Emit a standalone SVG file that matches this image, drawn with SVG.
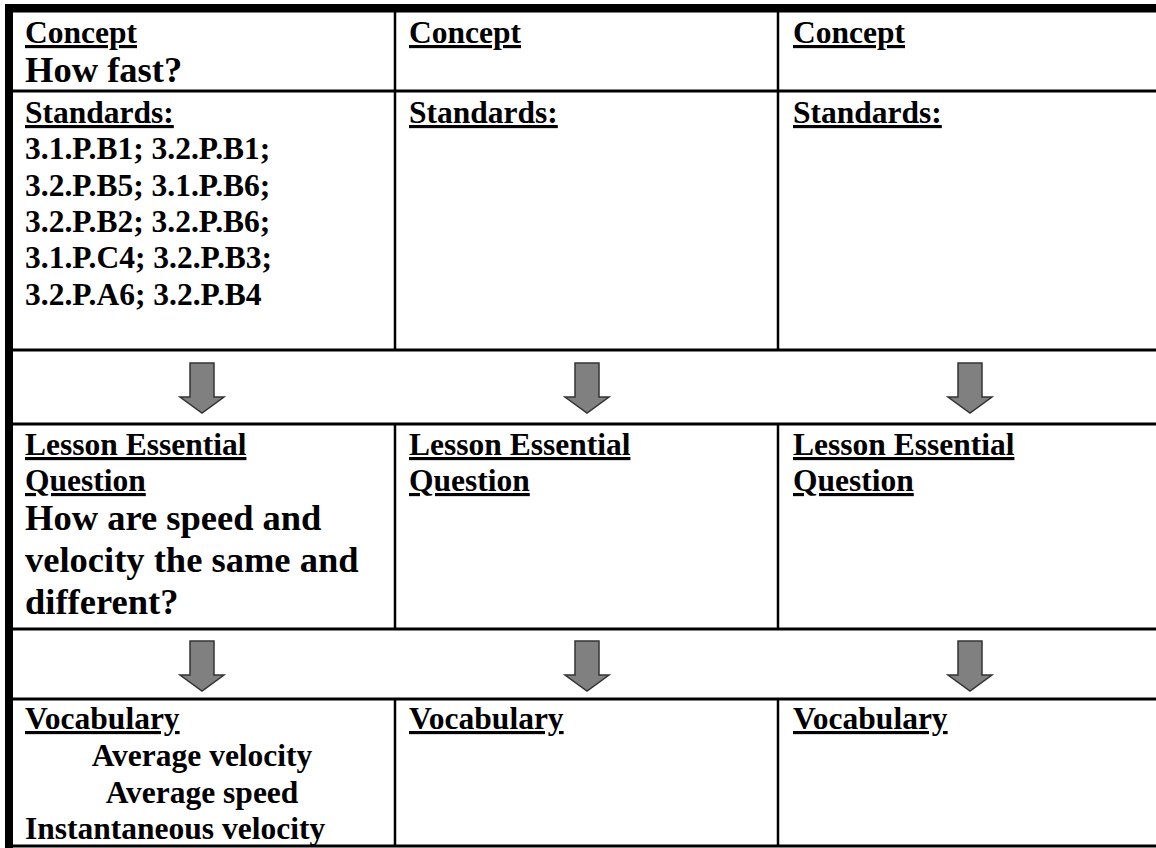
<svg xmlns="http://www.w3.org/2000/svg" width="1156" height="848" viewBox="0 0 1156 848">
<style>
text{font-family:"Liberation Serif","Times New Roman",serif;font-weight:bold;fill:#000}
.lbl{font-size:31.5px}
.u{text-decoration:underline}
.big{font-size:36.5px}
.h{stroke:#000;stroke-width:3}
.v{stroke:#000;stroke-width:2.5}
.arr{fill:#808080;stroke:#333;stroke-width:1.5;stroke-linejoin:miter}
</style>
<defs>
<path id="dn" d="M-12,0 H12 V34 H22 L0,50 L-22,34 H-12 Z"/>
</defs>
<rect width="1156" height="848" fill="#fff"/>
<g id="grid">
<rect x="5" y="4" width="1151" height="8.5" fill="#000"/>
<rect x="5" y="4" width="8" height="844" fill="#000"/>
<line class="h" x1="13" y1="91" x2="1156" y2="91"/>
<line class="h" x1="13" y1="350" x2="1156" y2="350"/>
<line class="h" x1="13" y1="424" x2="1156" y2="424"/>
<line class="h" x1="13" y1="629" x2="1156" y2="629"/>
<line class="h" x1="13" y1="699" x2="1156" y2="699"/>
<line class="h" x1="13" y1="846" x2="1156" y2="846"/>
<line class="v" x1="395" y1="12" x2="395" y2="350"/>
<line class="v" x1="778" y1="12" x2="778" y2="350"/>
<line class="v" x1="395" y1="424" x2="395" y2="629"/>
<line class="v" x1="778" y1="424" x2="778" y2="629"/>
<line class="v" x1="395" y1="699" x2="395" y2="846"/>
<line class="v" x1="778" y1="699" x2="778" y2="846"/>
</g>
<g id="concept1">
<text class="lbl u" x="25" y="43">Concept</text>
<text class="big" x="25" y="82">How fast?</text>
</g>
<g id="concept2"><text class="lbl u" x="409" y="43">Concept</text></g>
<g id="concept3"><text class="lbl u" x="793" y="43">Concept</text></g>
<g id="standards1">
<text class="lbl u" x="25" y="123">Standards:</text>
<text class="lbl" x="25" y="159">3.1.P.B1; 3.2.P.B1;</text>
<text class="lbl" x="25" y="196">3.2.P.B5; 3.1.P.B6;</text>
<text class="lbl" x="25" y="232">3.2.P.B2; 3.2.P.B6;</text>
<text class="lbl" x="25" y="268">3.1.P.C4; 3.2.P.B3;</text>
<text class="lbl" x="25" y="305">3.2.P.A6; 3.2.P.B4</text>
</g>
<g id="standards2"><text class="lbl u" x="409" y="123">Standards:</text></g>
<g id="standards3"><text class="lbl u" x="793" y="123">Standards:</text></g>
<g id="leq1">
<text class="lbl u" x="25" y="455">Lesson Essential</text>
<text class="lbl u" x="25" y="491">Question</text>
<text class="big" x="25" y="530">How are speed and</text>
<text class="big" x="25" y="572">velocity the same and</text>
<text class="big" x="25" y="614">different?</text>
</g>
<g id="leq2">
<text class="lbl u" x="409" y="455">Lesson Essential</text>
<text class="lbl u" x="409" y="491">Question</text>
</g>
<g id="leq3">
<text class="lbl u" x="793" y="455">Lesson Essential</text>
<text class="lbl u" x="793" y="491">Question</text>
</g>
<g id="vocab1">
<text class="lbl u" x="25" y="729">Vocabulary</text>
<text class="lbl" x="202" y="766" text-anchor="middle">Average velocity</text>
<text class="lbl" x="202" y="803" text-anchor="middle">Average speed</text>
<text class="lbl" x="25" y="839">Instantaneous velocity</text>
</g>
<g id="vocab2"><text class="lbl u" x="409" y="729">Vocabulary</text></g>
<g id="vocab3"><text class="lbl u" x="793" y="729">Vocabulary</text></g>
<g id="connectors">
<use href="#dn" class="arr" x="202" y="363"/>
<use href="#dn" class="arr" x="587" y="363"/>
<use href="#dn" class="arr" x="970" y="363"/>
<use href="#dn" class="arr" x="202" y="641"/>
<use href="#dn" class="arr" x="587" y="641"/>
<use href="#dn" class="arr" x="970" y="641"/>
</g>
</svg>
